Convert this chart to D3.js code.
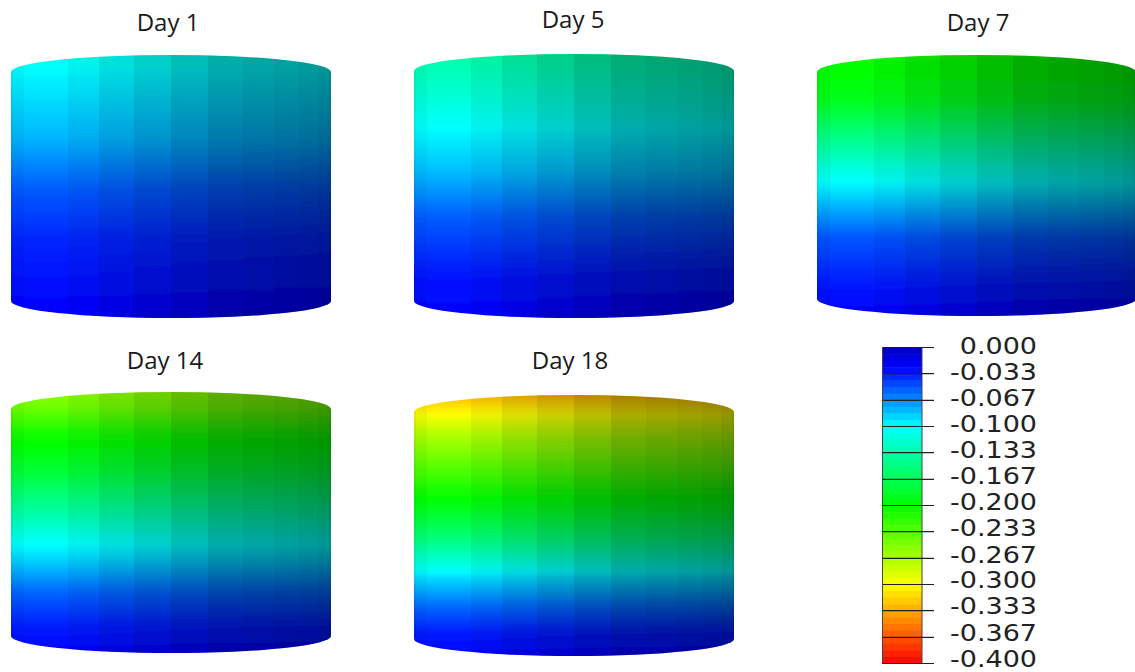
<!DOCTYPE html>
<html><head><meta charset="utf-8">
<script src="https://cdn.jsdelivr.net/npm/d3@7/dist/d3.min.js"></script>
<style>html,body{margin:0;padding:0;background:#fff}svg{display:block}</style>
</head><body><svg id="c" width="1135" height="672"></svg>
<script>
// --- data ---
const dayLabels = ["Day 1","Day 5","Day 7","Day 14","Day 18"];
// contour value along the cylinder height: fraction from bottom to top -> value
const day1Heights = [0,0.08,0.30,0.49,0.68,0.93,1];
const day1Values = [-0.025,-0.027,-0.036,-0.052,-0.078,-0.098,-0.105];
const day5Heights = [0,0.15,0.38,0.55,0.72,0.82,1];
const day5Values = [-0.025,-0.03,-0.052,-0.08,-0.1,-0.113,-0.135];
const day7Heights = [0,0.10,0.30,0.437,0.567,0.71,0.83,1];
const day7Values = [-0.025,-0.03,-0.05,-0.082,-0.113,-0.155,-0.19,-0.205];
const day14Heights = [0,0.10,0.23,0.356,0.44,0.56,0.69,0.84,0.94,1];
const day14Values = [-0.025,-0.033,-0.054,-0.087,-0.106,-0.141,-0.177,-0.208,-0.243,-0.255];
const day18Heights = [0,0.09,0.19,0.30,0.444,0.57,0.674,0.84,0.98,1];
const day18Values = [-0.025,-0.033,-0.056,-0.09,-0.15,-0.19,-0.22,-0.267,-0.32,-0.33];
// facet edges around the visible half of the cylinder (degrees) and facet brightness
const facetAngles = [-90,-80,-66.7,-53.3,-40,-26.7,-13.3,0,13.3,26.7,40,53.3,66.7,80,90];
const facetShade = [0.92,0.96,1,1,0.95,0.88,0.81,0.74,0.68,0.65,0.63,0.61,0.59,0.56];
const legendTicks = ["0.000","-0.033","-0.067","-0.100","-0.133","-0.167","-0.200","-0.233","-0.267","-0.300","-0.333","-0.367","-0.400"];
const colorValues = [0,-0.025,-0.1,-0.2,-0.3,-0.4];
const colorStops = ["#0000c0","#0000ff","#00ffff","#00ff00","#ffff00","#ff0000"];

// --- layout ---
const panels = [
 {h:day1Heights,v:day1Values,x0:11,x1:331,top:55,bot:318,tx:168,ty:31},
 {h:day5Heights,v:day5Values,x0:414,x1:734,top:54,bot:318,tx:573,ty:28},
 {h:day7Heights,v:day7Values,x0:817,x1:1136,top:55,bot:316,tx:978,ty:31},
 {h:day14Heights,v:day14Values,x0:11,x1:331,top:392,bot:653,tx:165,ty:369},
 {h:day18Heights,v:day18Values,x0:414,x1:734,top:395,bot:656,tx:570,ty:369}
];
const ry = 17;
const svg = d3.select("#c");
const defs = svg.append("defs");
defs.append("filter").attr("id","soft").attr("x","-2%").attr("y","-2%").attr("width","104%").attr("height","104%")
  .append("feGaussianBlur").attr("stdDeviation",0.6);
const color = d3.scaleLinear().domain(colorValues).range(colorStops);

panels.forEach((p,i)=>{
  const g = svg.append("g").attr("filter","url(#soft)");
  const y = d3.scaleLinear().domain([0,1]).range([p.bot,p.top]);
  const val = d3.scaleLinear().domain(p.h).range(p.v);
  const rx = (p.x1-p.x0)/2;
  const xs = d3.scaleLinear().domain([-1,1]).range([p.x0,p.x1]);
  const grad = defs.append("linearGradient").attr("id","g"+i)
    .attr("gradientUnits","userSpaceOnUse").attr("x1",0).attr("x2",0)
    .attr("y1",y(0)).attr("y2",y(1));
  grad.selectAll("stop").data(d3.range(0,1.0001,0.02)).join("stop")
    .attr("offset",d=>d).attr("stop-color",d=>color(val(d)));
  const outline = `M${p.x0},${p.top+ry}A${rx},${ry} 0 0 1 ${p.x1},${p.top+ry}L${p.x1},${p.bot-ry}A${rx},${ry} 0 0 1 ${p.x0},${p.bot-ry}Z`;
  defs.append("clipPath").attr("id","cl"+i).append("path").attr("d",outline);
  g.append("path").attr("d",outline).attr("fill",`url(#g${i})`);
  g.append("g").attr("clip-path",`url(#cl${i})`).selectAll("rect")
    .data(facetShade).join("rect")
    .attr("shape-rendering","crispEdges")
    .attr("x",(d,k)=>xs(Math.sin(facetAngles[k]*Math.PI/180)))
    .attr("width",(d,k)=>xs(Math.sin(facetAngles[k+1]*Math.PI/180))-xs(Math.sin(facetAngles[k]*Math.PI/180)))
    .attr("y",p.top).attr("height",p.bot-p.top)
    .attr("fill","#000").attr("fill-opacity",d=>1-d);
  svg.append("text").text(dayLabels[i]).attr("x",p.tx).attr("y",p.ty)
    .attr("text-anchor","middle").attr("font-family","'Open Sans', sans-serif")
    .attr("font-size",24).attr("fill","#1a1a1a");
});

// --- legend ---
const tickVals = legendTicks.map(Number);
const ly = d3.scaleLinear().domain([0,-0.4]).range([347.5,663.5]);
const labelY = d3.scaleLinear().domain([0,-0.4]).range([353.8,666.6]);
const lg = svg.append("g");
const steps = d3.range(0,48);
lg.selectAll("rect.s").data(steps).join("rect").attr("class","s")
  .attr("x",882.5).attr("width",39.5)
  .attr("y",d=>ly(-d*0.4/48)).attr("height",d=>ly(-(d+1)*0.4/48)-ly(-d*0.4/48)+0.5)
  .attr("fill",d=>color(-(d+0.5)*0.4/48));
lg.append("rect").attr("x",882.5).attr("y",347.5).attr("width",39.5).attr("height",316)
  .attr("fill","none").attr("stroke","#444").attr("stroke-width",1);
const tg = lg.selectAll("g.t").data(tickVals).join("g").attr("class","t");
tg.append("line").attr("x1",883).attr("x2",934).attr("y1",d=>ly(d)).attr("y2",d=>ly(d))
  .attr("stroke","#222").attr("stroke-width",1.2);
tg.append("text").text((d,i)=>legendTicks[i])
  .attr("transform",d=>`translate(1037,${labelY(d)}) scale(1.2,1)`)
  .attr("text-anchor","end").attr("font-family","'DejaVu Sans', sans-serif")
  .attr("font-size",22.5).attr("fill","#222");
</script></body></html>
